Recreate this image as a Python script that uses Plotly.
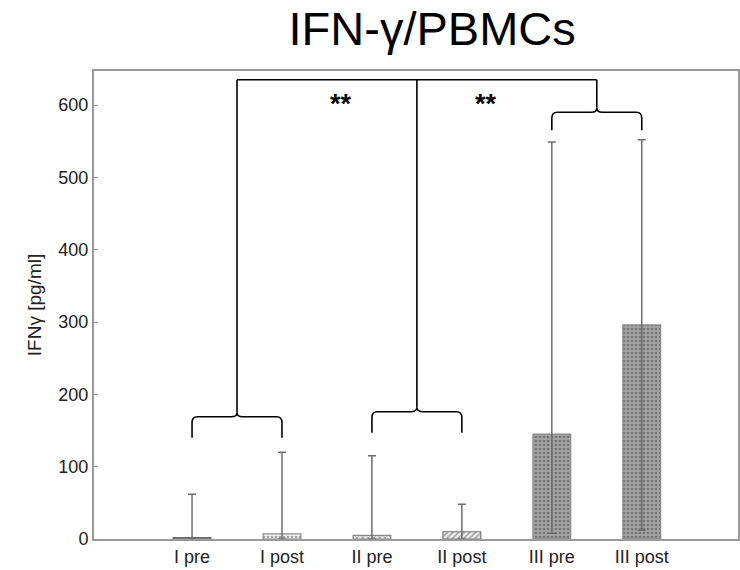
import plotly.graph_objects as go

# ---- data ----
categories = ["I pre", "I post", "II pre", "II post", "III pre", "III post"]
means = [2, 7, 5, 10, 145, 296]
upper = [62, 120, 115, 48, 549, 552]
lower = [0, 0, 0, 0, 8, 12]
y_ticks = [0, 100, 200, 300, 400, 500, 600]

# significance braces: (first index, last index, brace level, tip level)
brace_groups = [(0, 1, 169, 140), (2, 3, 176, 147), (4, 5, 590, 565)]
bracket_top = 635
sig_labels = ["**", "**"]
sig_x = [1.66, 3.27]
sig_y = [601, 601]

x_pos = list(range(len(categories)))

bar_bg = ["#d8d8d8", "#f4f4f4", "#e6e6e6", "#eeeeee", "#a3a3a3", "#a3a3a3"]
bar_fg = ["#888888", "#bdbdbd", "#9a9a9a", "#777777", "#787878", "#787878"]
bar_shape = ["", ".", "x", "/", ".", "."]
bar_line = ["#666666", "#8a8a8a", "#8a8a8a", "#777777", "#8a8a8a", "#8a8a8a"]

fig = go.Figure()
fig.add_trace(go.Bar(
    x=x_pos, y=means, width=0.42,
    marker=dict(
        color=bar_bg,
        line=dict(color=bar_line, width=1.2),
        pattern=dict(shape=bar_shape, fgcolor=bar_fg, bgcolor=bar_bg, size=4, solidity=0.35),
    ),
    error_y=dict(
        type="data", symmetric=False,
        array=[u - m for u, m in zip(upper, means)],
        arrayminus=[m - l for m, l in zip(means, lower)],
        color="#6e6e6e", thickness=1.5, width=4,
    ),
    showlegend=False,
))

# braces
def brace_path(x0, x1, yh, yt):
    xc = (x0 + x1) / 2
    r = 0.06
    dy = 8
    cy = 6
    return (f"M {x0},{yt} L {x0},{yh-dy} Q {x0},{yh} {x0+r},{yh} "
            f"L {xc-r},{yh} Q {xc},{yh} {xc},{yh+cy} "
            f"Q {xc},{yh} {xc+r},{yh} L {x1-r},{yh} "
            f"Q {x1},{yh} {x1},{yh-dy} L {x1},{yt}")

shapes = []
centers = []
for a, b, yh, yt in brace_groups:
    shapes.append(dict(type="path", path=brace_path(x_pos[a], x_pos[b], yh, yt),
                       xref="x", yref="y", line=dict(color="black", width=1.6)))
    xc = (x_pos[a] + x_pos[b]) / 2
    centers.append(xc)
    shapes.append(dict(type="line", x0=xc, x1=xc, y0=yh + 6, y1=bracket_top,
                       xref="x", yref="y", line=dict(color="black", width=1.6)))
shapes.append(dict(type="line", x0=min(centers), x1=max(centers), y0=bracket_top, y1=bracket_top,
                   xref="x", yref="y", line=dict(color="black", width=1.6)))

annotations = []
for t, xx, yy in zip(sig_labels, sig_x, sig_y):
    annotations.append(dict(x=xx, y=yy, xref="x", yref="y", text="<b>" + t + "</b>",
                            showarrow=False, font=dict(size=27, color="black",
                                                       family="Liberation Sans, Arial")))

fig.update_layout(
    width=740, height=570,
    margin=dict(l=94, r=2, t=71, b=31),
    paper_bgcolor="white", plot_bgcolor="white",
    font=dict(family="Liberation Sans, Arial", color="#222222"),
    title=dict(text="IFN-γ/PBMCs", x=0.584, xanchor="center", y=0.95, yanchor="middle",
               font=dict(size=47, color="black")),
    shapes=shapes, annotations=annotations,
    bargap=0.5,
)
fig.update_xaxes(
    range=[-1.09, 6.07], tickvals=x_pos, ticktext=categories,
    showline=True, linecolor="#999999", linewidth=2, mirror=True,
    ticks="", showgrid=False, zeroline=False, automargin=False,
    tickfont=dict(size=18, color="#222222"),
)
fig.update_yaxes(
    range=[0, 647], tickvals=y_ticks,
    showline=True, linecolor="#999999", linewidth=2, mirror=True,
    ticks="inside", ticklen=4, tickcolor="#999999",
    showgrid=False, zeroline=False, automargin=False,
    tickfont=dict(size=18, color="#222222"),
    title=dict(text="IFNγ [pg/ml]", font=dict(size=19, color="#222222"), standoff=12),
)

fig.write_html(
    "out.html",
    config={"displayModeBar": False},
    post_script="document.body.style.margin='0';document.body.style.overflow='hidden';",
)
